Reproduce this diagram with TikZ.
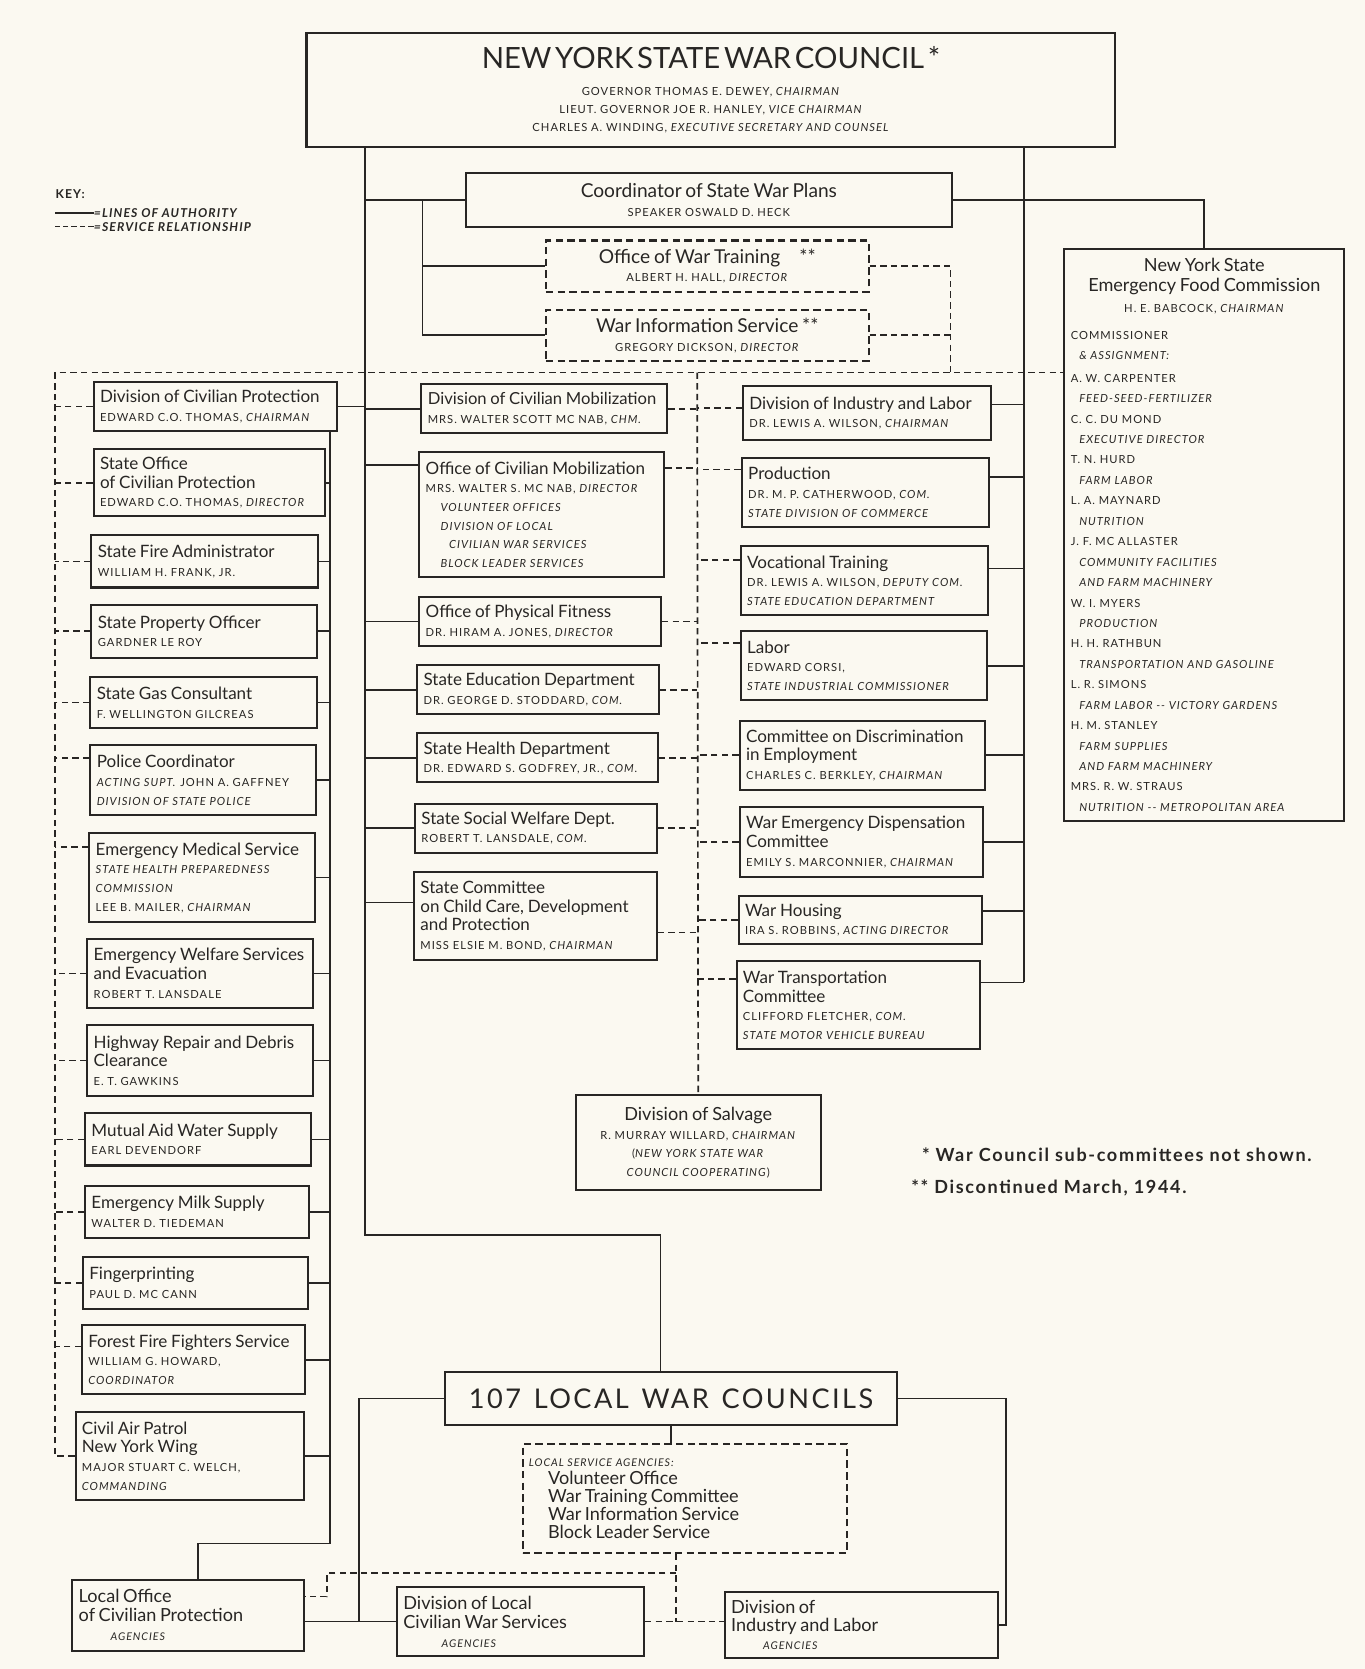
\documentclass[tikz,border=0pt]{standalone}
\usepackage{fontspec}
\setmainfont{Lato}
\newfontfamily\capsfont[LetterSpace=9]{Lato}
\usetikzlibrary{positioning}
\definecolor{ink}{RGB}{40,38,36}
\definecolor{paper}{RGB}{251,249,241}
\newcommand{\hd}[2][16]{{\rmfamily\fontsize{#1}{17.5}\selectfont #2}}

\begin{document}
\hyphenpenalty=10000
\begin{tikzpicture}
[x=1pt, y=-1pt, color=ink,
% STYLES
% org is one box of the chart, text set to the left
org/.style={draw, line width=1.9pt, anchor=north west, align=left, inner xsep=6pt, inner ysep=3pt, font=\capsfont\fontsize{10.5}{17.5}\selectfont},
corg/.style={org, align=center},
% dorg is a box drawn dashed
dorg/.style={org, dash pattern=on 7pt off 4pt},
dims/.style 2 args={text width=#1, minimum height=#2},
% lines of authority and service relationship
auth/.style={line width=1.6pt},
serv/.style={line width=1.6pt, dash pattern=on 6pt off 4pt},
note/.style={font=\capsfont\bfseries\fontsize{17}{20}\selectfont, inner sep=0pt},
keytxt/.style={font=\capsfont\bfseries\itshape\fontsize{11.5}{13}\selectfont, inner sep=0pt}]

\useasboundingbox (0,0) rectangle (1282,1568);
\fill[paper] (0,0) rectangle (1282,1568);

% Key
\node[keytxt, anchor=west] (key) at (52,182) {\upshape KEY:};
\node[keytxt, anchor=west] (kauth) at (88,200) {=LINES OF AUTHORITY};
\node[keytxt, below right=4pt and 0pt of kauth.south west] (kserv) {=SERVICE RELATIONSHIP};
\draw[auth, line width=1.2pt] (kauth.west) -- ++(-36,0);
\draw[serv, line width=1.2pt, dash pattern=on 5pt off 3pt] (kserv.west) -- ++(-36,0);

% Council and its staff
\node[corg, dims={748pt}{107pt}, font=\capsfont\fontsize{10.5}{17}\selectfont] (wc) at (287,30)
{\hd[27.5]{NEW YORK STATE WAR COUNCIL *}\\[8pt]
 GOVERNOR THOMAS E. DEWEY, \textit{CHAIRMAN}\\
 LIEUT. GOVERNOR JOE R. HANLEY, \textit{VICE CHAIRMAN}\\
 CHARLES A. WINDING, \textit{EXECUTIVE SECRETARY AND COUNSEL}};
\node[corg, dims={444pt}{50pt}] (coord) at (437,162)
{\hd[18]{Coordinator of State War Plans}\\ SPEAKER OSWALD D. HECK};
\node[dorg, align=center, dims={291pt}{48pt}] (owt) at (512,225)
{\hd[18]{Office of War Training\quad **}\\ ALBERT H. HALL, \textit{DIRECTOR}};
\node[dorg, align=center, dims={291pt}{48pt}] (wis) at (512,290)
{\hd[18]{War Information Service **}\\ GREGORY DICKSON, \textit{DIRECTOR}};

% Food commission
\node[org, dims={251pt}{537pt}, font=\capsfont\fontsize{10.5}{19.2}\selectfont] (food) at (999,233)
{\makebox[251pt]{\hd[17]{New York State}}\\
 \makebox[251pt]{\hd[17]{Emergency Food Commission}}\\
 \makebox[251pt]{H. E. BABCOCK, \textit{CHAIRMAN}}\\[6pt]
 COMMISSIONER\\
 \hspace*{8pt}\textit{\& ASSIGNMENT:}\\[2pt]
 A. W. CARPENTER\\
 \hspace*{8pt}\textit{FEED-SEED-FERTILIZER}\\
 C. C. DU MOND\\
 \hspace*{8pt}\textit{EXECUTIVE DIRECTOR}\\
 T. N. HURD\\
 \hspace*{8pt}\textit{FARM LABOR}\\
 L. A. MAYNARD\\
 \hspace*{8pt}\textit{NUTRITION}\\
 J. F. MC ALLASTER\\
 \hspace*{8pt}\textit{COMMUNITY FACILITIES}\\
 \hspace*{8pt}\textit{AND FARM MACHINERY}\\
 W. I. MYERS\\
 \hspace*{8pt}\textit{PRODUCTION}\\
 H. H. RATHBUN\\
 \hspace*{8pt}\textit{TRANSPORTATION AND GASOLINE}\\
 L. R. SIMONS\\
 \hspace*{8pt}\textit{FARM LABOR -- VICTORY GARDENS}\\
 H. M. STANLEY\\
 \hspace*{8pt}\textit{FARM SUPPLIES}\\
 \hspace*{8pt}\textit{AND FARM MACHINERY}\\
 MRS. R. W. STRAUS\\
 \hspace*{8pt}\textit{NUTRITION -- METROPOLITAN AREA}};

% Civilian protection column
\node[org, dims={217pt}{46pt}] (dcp) at (87,358)
{\hd{Division of Civilian Protection}\\ EDWARD C.O. THOMAS, \textit{CHAIRMAN}};
\node[org, dims={205pt}{63pt}] (socp) at (87,421)
{\hd{State Office}\\ \hd{of Civilian Protection}\\ EDWARD C.O. THOMAS, \textit{DIRECTOR}};
\node[org, dims={201pt}{49pt}] (sfa) at (85,502)
{\hd{State Fire Administrator}\\ WILLIAM H. FRANK, JR.};
\node[org, dims={200pt}{50pt}] (spo) at (85,567)
{\hd{State Property Officer}\\ GARDNER LE ROY};
\node[org, dims={201pt}{48pt}] (sgc) at (84,635)
{\hd{State Gas Consultant}\\ F. WELLINGTON GILCREAS};
\node[org, dims={200pt}{66pt}] (pc) at (84,699)
{\hd{Police Coordinator}\\ \textit{ACTING SUPT.} JOHN A. GAFFNEY\\ \textit{DIVISION OF STATE POLICE}};
\node[org, dims={200pt}{83pt}] (ems) at (83,782)
{\hd{Emergency Medical Service}\\ \textit{STATE HEALTH PREPAREDNESS}\\ \textit{COMMISSION}\\ LEE B. MAILER, \textit{CHAIRMAN}};
\node[org, dims={200pt}{65pt}] (ews) at (81,881)
{\hd{Emergency Welfare Services}\\ \hd{and Evacuation}\\ ROBERT T. LANSDALE};
\node[org, dims={200pt}{67pt}] (hrd) at (81,962)
{\hd{Highway Repair and Debris}\\ \hd{Clearance}\\ E. T. GAWKINS};
\node[org, dims={200pt}{49pt}] (maw) at (79,1045)
{\hd{Mutual Aid Water Supply}\\ EARL DEVENDORF};
\node[org, dims={198pt}{49pt}] (milk) at (79,1113)
{\hd{Emergency Milk Supply}\\ WALTER D. TIEDEMAN};
\node[org, dims={199pt}{49pt}] (fp) at (77,1180)
{\hd{Fingerprinting}\\ PAUL D. MC CANN};
\node[org, dims={198pt}{65pt}] (fff) at (76,1244)
{\hd{Forest Fire Fighters Service}\\ WILLIAM G. HOWARD,\\ \textit{COORDINATOR}};
\node[org, dims={203pt}{82pt}] (cap) at (70,1326)
{\hd{Civil Air Patrol}\\ \hd{New York Wing}\\ MAJOR STUART C. WELCH,\\ \textit{COMMANDING}};

% Civilian mobilization column
\node[org, dims={219pt}{46pt}] (dcm) at (395,360)
{\hd[15.6]{Division of Civilian Mobilization}\\ MRS. WALTER SCOTT MC NAB, \textit{CHM.}};
\node[org, dims={218pt}{117pt}] (ocm) at (393,424)
{\hd{Office of Civilian Mobilization}\\ MRS. WALTER S. MC NAB, \textit{DIRECTOR}\\
 \hspace*{14pt}\textit{VOLUNTEER OFFICES}\\ \hspace*{14pt}\textit{DIVISION OF LOCAL}\\
 \hspace*{22pt}\textit{CIVILIAN WAR SERVICES}\\ \hspace*{14pt}\textit{BLOCK LEADER SERVICES}};
\node[org, dims={215pt}{46pt}] (opf) at (393,560)
{\hd{Office of Physical Fitness}\\ DR. HIRAM A. JONES, \textit{DIRECTOR}};
\node[org, dims={215pt}{46pt}] (sed) at (391,624)
{\hd{State Education Department}\\ DR. GEORGE D. STODDARD, \textit{COM.}};
\node[org, dims={214pt}{46pt}] (shd) at (391,688)
{\hd{State Health Department}\\ DR. EDWARD S. GODFREY, JR., \textit{COM.}};
\node[org, dims={215pt}{46pt}] (sswd) at (389,754)
{\hd{State Social Welfare Dept.}\\ ROBERT T. LANSDALE, \textit{COM.}};
\node[org, dims={216pt}{83pt}] (sccc) at (388,818)
{\hd{State Committee}\\ \hd{on Child Care, Development}\\ \hd{and Protection}\\ MISS ELSIE M. BOND, \textit{CHAIRMAN}};

% Industry and labor column
\node[org, dims={221pt}{50pt}] (dil) at (697,362)
{\hd{Division of Industry and Labor}\\ DR. LEWIS A. WILSON, \textit{CHAIRMAN}};
\node[org, dims={220pt}{65pt}] (prod) at (696,429)
{\hd{Production}\\ DR. M. P. CATHERWOOD, \textit{COM.}\\ \textit{STATE DIVISION OF COMMERCE}};
\node[org, dims={220pt}{65pt}] (voc) at (695,512)
{\hd{Vocational Training}\\ DR. LEWIS A. WILSON, \textit{DEPUTY COM.}\\ \textit{STATE EDUCATION DEPARTMENT}};
\node[org, dims={219pt}{65pt}] (lab) at (695,592)
{\hd{Labor}\\ EDWARD CORSI,\\ \textit{STATE INDUSTRIAL COMMISSIONER}};
\node[org, dims={218pt}{65pt}] (cde) at (694,676)
{\hd{Committee on Discrimination}\\ \hd{in Employment}\\ CHARLES C. BERKLEY, \textit{CHAIRMAN}};
\node[org, dims={217pt}{66pt}] (wedc) at (694,757)
{\hd{War Emergency Dispensation}\\ \hd{Committee}\\ EMILY S. MARCONNIER, \textit{CHAIRMAN}};
\node[org, dims={217pt}{45pt}] (wh) at (693,841)
{\hd{War Housing}\\ IRA S. ROBBINS, \textit{ACTING DIRECTOR}};
\node[org, dims={217pt}{83pt}] (wtc) at (691,902)
{\hd{War Transportation}\\ \hd{Committee}\\ CLIFFORD FLETCHER, \textit{COM.}\\ \textit{STATE MOTOR VEHICLE BUREAU}};

% Salvage
\node[corg, dims={218pt}{89pt}] (sal) at (540,1028)
{\hd[17]{Division of Salvage}\\ R. MURRAY WILLARD, \textit{CHAIRMAN}\\
 (\textit{NEW YORK STATE WAR}\\ \textit{COUNCIL COOPERATING})};

% Notes
\node[note, anchor=west] (fn1) at (866,1085) {* War Council sub-committees not shown.};
\node[note, anchor=west] (fn2) at (856,1116) {** Discontinued March, 1944.};

% Local councils
\node[corg, dims={413pt}{50pt}] (lwc) at (417,1288)
{{\fontsize{25.5}{27}\selectfont 107\hspace{12pt}LOCAL\hspace{12pt}WAR\hspace{12pt}COUNCILS}};
\node[dorg, dims={293pt}{102pt}, font=\capsfont\fontsize{10}{16.8}\selectfont] (lsa) at (490,1356)
{\textit{LOCAL SERVICE AGENCIES:}\\ \hspace*{18pt}\hd[17]{Volunteer Office}\\
 \hspace*{18pt}\hd[17]{War Training Committee}\\ \hspace*{18pt}\hd[17]{War Information Service}\\
 \hspace*{18pt}\hd[17]{Block Leader Service}};
\node[org, dims={206pt}{67pt}, font=\capsfont\fontsize{10}{18}\selectfont] (lo) at (67,1483)
{\hd[17]{Local Office}\\ \hd[17]{of Civilian Protection}\\ \hspace*{30pt}\textit{AGENCIES}};
\node[org, dims={220pt}{65pt}, font=\capsfont\fontsize{10}{18}\selectfont] (dlc) at (372,1490)
{\hd[17]{Division of Local}\\ \hd[17]{Civilian War Services}\\ \hspace*{36pt}\textit{AGENCIES}};
\node[org, dims={245pt}{62pt}, font=\capsfont\fontsize{10}{17}\selectfont] (dila) at (680,1495)
{\hd[17]{Division of}\\ \hd[17]{Industry and Labor}\\ \hspace*{30pt}\textit{AGENCIES}};

% Trunk positions
\coordinate (ltr) at (343,0);
\coordinate (itr) at (397,0);
\coordinate (rtr) at (962,0);
\coordinate (lv) at (310,0);
\coordinate (mv) at (655,0);
\coordinate (sv) at (893,0);
\coordinate (bv) at (635,0);
\coordinate (dl) at (52,350);
\coordinate (lb) at (343,1160);
\coordinate (lvb) at (310,1450);
\coordinate (lk) at (307,1478);
\coordinate (wl) at (337,0);
\coordinate (wr) at (945,0);

% Lines of authority
\draw[auth] (wc.south -| ltr) -- (lb) -| ([xshift=-10pt]lwc.north);
\draw[auth] (wc.south -| rtr) -- (rtr |- 0,923);
\draw[auth] (coord.west -| itr) |- (wis.west);
\draw[auth] (coord.east) -| (food.north);
\draw[auth] (dcp.south -| lv) -- (lvb) -| ([xshift=9pt]lo.north);
\path[auth]
(coord.west) edge (coord.west -| ltr)
(owt.west) edge (owt.west -| itr)
(dcp.east) edge (dcp.east -| ltr)
(socp.east) edge (socp.east -| lv)
(sfa.east) edge (sfa.east -| lv)
(spo.east) edge (spo.east -| lv)
(sgc.east) edge (sgc.east -| lv)
(pc.east) edge (pc.east -| lv)
(ems.east) edge (ems.east -| lv)
(ews.east) edge (ews.east -| lv)
(hrd.east) edge (hrd.east -| lv)
(maw.east) edge (maw.east -| lv)
(milk.east) edge (milk.east -| lv)
(fp.east) edge (fp.east -| lv)
(fff.east) edge (fff.east -| lv)
(cap.east) edge (cap.east -| lv)
(dcm.west) edge (dcm.west -| ltr)
(ocm.west |- 0,437) edge (ltr |- 0,437)
(opf.west) edge (opf.west -| ltr)
(sed.west) edge (sed.west -| ltr)
(shd.west) edge (shd.west -| ltr)
(sswd.west) edge (sswd.west -| ltr)
(sccc.west |- 0,848) edge (ltr |- 0,848)
(dil.east |- 0,380) edge (rtr |- 0,380)
(prod.east |- 0,448) edge (rtr |- 0,448)
(voc.east |- 0,534) edge (rtr |- 0,534)
(lab.east) edge (lab.east -| rtr)
(cde.east) edge (cde.east -| rtr)
(wedc.east) edge (wedc.east -| rtr)
(wh.east |- 0,856) edge (rtr |- 0,856)
(wtc.east |- 0,923) edge (rtr |- 0,923);

% Local councils
\draw[auth] (lwc.west) -| (wl |- dlc.west);
\draw[auth] (lwc.east) -| (wr |- dila.east) -- (dila.east);
\path[auth]
(lo.east |- dlc.west) edge (dlc.west)
(lwc.south) edge (lwc.south |- lsa.north);

% Service relationships
\draw[serv] (cap.west) -| (dl) -- (dl -| food.west);
\draw[serv] (owt.east) -| (sv |- dl);
\draw[serv] (mv |- dl) -- (sal.north);
\path[serv]
(wis.east) edge (wis.east -| sv)
(dcp.west) edge (dcp.west -| dl)
(socp.west) edge (socp.west -| dl)
(sfa.west) edge (sfa.west -| dl)
(spo.west) edge (spo.west -| dl)
(sgc.west) edge (sgc.west -| dl)
(pc.west |- 0,712) edge (dl |- 0,712)
(ems.west |- 0,796) edge (dl |- 0,796)
(ews.west) edge (ews.west -| dl)
(hrd.west) edge (hrd.west -| dl)
(maw.west) edge (maw.west -| dl)
(milk.west) edge (milk.west -| dl)
(fp.west) edge (fp.west -| dl)
(fff.west |- 0,1265) edge (dl |- 0,1265)
(dcm.east) edge (dcm.east -| mv)
(ocm.east |- 0,440) edge (mv |- 0,440)
(opf.east) edge (opf.east -| mv)
(sed.east) edge (sed.east -| mv)
(shd.east) edge (shd.east -| mv)
(sswd.east) edge (sswd.east -| mv)
(sccc.east |- 0,876) edge (mv |- 0,876)
(dil.west |- 0,383) edge (mv |- 0,383)
(prod.west |- 0,441) edge (mv |- 0,441)
(voc.west |- 0,526) edge (mv |- 0,526)
(lab.west |- 0,604) edge (mv |- 0,604)
(cde.west) edge (cde.west -| mv)
(wedc.west) edge (wedc.west -| mv)
(wh.west) edge (wh.west -| mv)
(wtc.west |- 0,920) edge (mv |- 0,920);

% Local service lines
\draw[serv] (bv |- lsa.south) -- (bv |- dlc.east);
\draw[serv] (bv |- lk) -- (lk) |- (lo.east |- 0,1500);
\path[serv] (dlc.east) edge (dlc.east -| dila.west);

\end{tikzpicture}
\end{document}
